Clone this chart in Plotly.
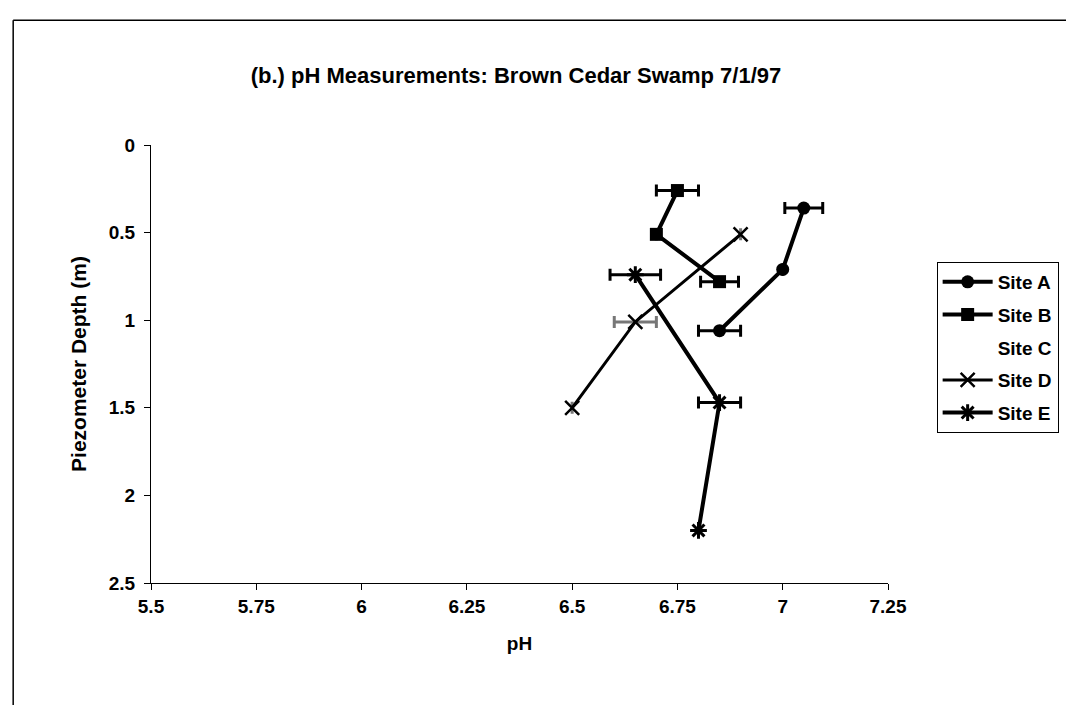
import plotly.graph_objects as go

# pH readings and depths
site_a_ph = [7.05, 7.0, 6.85]
site_a_depth = [0.36, 0.71, 1.06]
site_a_err = [0.045, 0.0, 0.05]

site_b_ph = [6.75, 6.70, 6.85]
site_b_depth = [0.26, 0.51, 0.78]
site_b_err = [0.05, 0.0, 0.045]

site_d_ph = [6.9, 6.65, 6.5]
site_d_depth = [0.51, 1.01, 1.50]
site_d_err = [0.0, 0.05, 0.0]

site_e_ph = [6.65, 6.85, 6.80]
site_e_depth = [0.74, 1.47, 2.20]
site_e_err = [0.06, 0.05, 0.0]

x_ticks = [5.5, 5.75, 6, 6.25, 6.5, 6.75, 7, 7.25]
y_ticks = [0, 0.5, 1, 1.5, 2, 2.5]

FONT = "Liberation Sans, Arial, sans-serif"


def err(values, color="black"):
    return dict(type="data", array=values, symmetric=True, color=color,
                thickness=3, width=6)


fig = go.Figure()
fig.add_trace(go.Scatter(
    x=site_a_ph, y=site_a_depth, name="Site A", mode="lines+markers",
    legendgroup="a",
    line=dict(color="black", width=4),
    marker=dict(symbol="circle", size=13, color="black"),
    error_x=err(site_a_err),
))
fig.add_trace(go.Scatter(
    x=site_b_ph, y=site_b_depth, name="Site B", mode="lines+markers",
    legendgroup="b",
    line=dict(color="black", width=4),
    marker=dict(symbol="square", size=13, color="black"),
    error_x=err(site_b_err),
))
fig.add_trace(go.Scatter(
    x=[None], y=[None], name="Site C", mode="lines", legendgroup="c",
    line=dict(color="rgba(0,0,0,0)", width=0),
))
fig.add_trace(go.Scatter(
    x=site_d_ph, y=site_d_depth, name="Site D", mode="lines+markers",
    legendgroup="d",
    line=dict(color="black", width=3),
    marker=dict(symbol="x-thin-open", size=14,
                line=dict(color="black", width=2.5)),
    error_x=err(site_d_err, "#777777"),
))
fig.add_trace(go.Scatter(
    x=site_e_ph, y=site_e_depth, name="Site E", mode="lines+markers",
    legendgroup="e",
    line=dict(color="black", width=4),
    marker=dict(symbol="asterisk-open", size=14,
                line=dict(color="black", width=3)),
    error_x=err(site_e_err),
))

fig.update_xaxes(
    range=[5.5, 7.25], tickvals=x_ticks, ticktext=[f"{v:g}" for v in x_ticks],
    showline=True, linecolor="black", linewidth=1, showgrid=False,
    zeroline=False, ticks="outside", ticklen=6, tickcolor="black",
    tickfont=dict(family=FONT, size=19, color="black", weight="bold"),
    title=dict(text="pH", font=dict(family=FONT, size=19, color="black",
                                    weight="bold"), standoff=20),
)
fig.update_yaxes(
    range=[2.5, 0], tickvals=y_ticks, ticktext=[f"{v:g}" for v in y_ticks],
    showline=True, linecolor="black", linewidth=1, showgrid=False,
    zeroline=False, ticks="outside", ticklen=6, tickcolor="black",
    ticklabelstandoff=5,
    tickfont=dict(family=FONT, size=19, color="black", weight="bold"),
    title=dict(text="Piezometer Depth (m)",
               font=dict(family=FONT, size=21, color="black", weight="bold"),
               standoff=16),
)

fig.update_layout(
    width=1074, height=705,
    margin=dict(l=143, r=194, t=137, b=130),
    paper_bgcolor="white", plot_bgcolor="white",
    title=dict(text="(b.) pH Measurements: Brown Cedar Swamp 7/1/97",
               x=0.473, xanchor="center", y=0.905, yanchor="middle",
               font=dict(family=FONT, size=22, color="black", weight="bold")),
    legend=dict(x=1.066, y=0.733, xanchor="left", yanchor="top",
                bordercolor="black", borderwidth=1, bgcolor="white",
                font=dict(family=FONT, size=19, color="black", weight="bold"),
                itemwidth=50, traceorder="grouped", tracegroupgap=5),
    showlegend=True,
    shapes=[
        dict(type="line", xref="paper", yref="paper", x0=-0.187, x1=1.3,
             y0=1.285, y1=1.285, line=dict(color="black", width=1.5)),
        dict(type="line", xref="paper", yref="paper", x0=-0.187, x1=-0.187,
             y0=1.285, y1=-0.35, line=dict(color="black", width=1.5)),
    ],
)

fig.write_html("out.html")
